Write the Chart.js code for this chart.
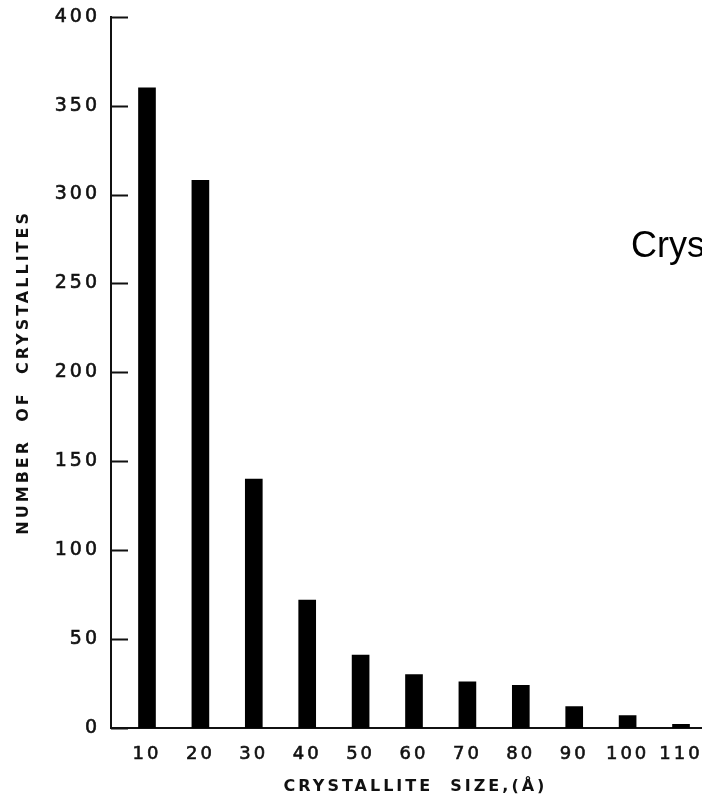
<!DOCTYPE html>
<html>
<head>
<meta charset="utf-8">
<script src="https://cdn.jsdelivr.net/npm/chart.js@4/dist/chart.umd.min.js"></script>
<style>
  html, body { margin: 0; padding: 0; background: #fff; overflow: hidden; }
  #wrap { position: absolute; left: 0; top: 0; width: 720px; height: 796px; }
</style>
</head>
<body>
<div id="wrap"><canvas id="chart" width="720" height="796"></canvas></div>
<script>
// Crystallite size classes (Å) and the number of crystallites counted in each
const sizes = [10, 20, 30, 40, 50, 60, 70, 80, 90, 100, 110];
const counts = [360, 308, 140, 72, 41, 30, 26, 24, 12, 7, 2];
const yTickValues = [0, 50, 100, 150, 200, 250, 300, 350, 400];

const xTitle = 'CRYSTALLITE  SIZE,(Å)';
const yTitle = 'NUMBER  OF  CRYSTALLITES';
const sideText = 'Crystallite size distribution';

const INK = '#111';
const LETTER = 'DejaVu Sans';

// wide, spaced lettering for the hand-drawn axis text, inner tick marks, side caption
const lettering = {
  id: 'lettering',
  beforeDraw(chart) {
    chart.ctx.letterSpacing = '3px';
  },
  afterDraw(chart) {
    const ctx = chart.ctx;
    const y = chart.scales.y;
    const left = chart.chartArea.left;
    ctx.save();
    ctx.strokeStyle = INK;
    ctx.lineWidth = 2;
    ctx.beginPath();
    y.ticks.forEach(t => {
      const py = Math.round(y.getPixelForValue(t.value)) + 0.5;
      ctx.moveTo(left, py);
      ctx.lineTo(left + 17, py);
    });
    ctx.stroke();
    ctx.letterSpacing = '0px';
    ctx.fillStyle = '#000';
    ctx.font = '36px "Liberation Sans", Arial, sans-serif';
    ctx.textAlign = 'left';
    ctx.textBaseline = 'alphabetic';
    ctx.fillText(sideText, 631, 257);
    ctx.restore();
  }
};

new Chart(document.getElementById('chart'), {
  type: 'bar',
  data: {
    datasets: [{
      data: sizes.map((s, i) => ({ x: s, y: counts[i] })),
      backgroundColor: '#000',
      borderWidth: 0,
      barThickness: 17
    }]
  },
  options: {
    responsive: false,
    animation: false,
    events: [],
    layout: { padding: { top: 15, left: 0, right: 0, bottom: 0 } },
    plugins: {
      legend: { display: false },
      tooltip: { enabled: false }
    },
    scales: {
      x: {
        type: 'linear',
        offset: false,
        min: 3.26,
        max: 117.3,
        afterBuildTicks(scale) {
          scale.ticks = sizes.map(v => ({ value: v }));
        },
        afterFit(scale) { scale.height = 68; },
        grid: { display: false, drawTicks: false, offset: false },
        border: { display: true, color: INK, width: 2 },
        ticks: {
          autoSkip: false,
          maxRotation: 0,
          padding: 16,
          color: INK,
          textStrokeColor: INK,
          textStrokeWidth: 0.6,
          font: { family: LETTER, size: 18 },
          callback: v => String(v)
        },
        title: {
          display: true,
          text: xTitle,
          color: INK,
          font: { family: LETTER, size: 16, weight: 'bold' },
          padding: { top: 9, bottom: 0 }
        }
      },
      y: {
        min: 0,
        max: 400,
        afterBuildTicks(scale) {
          scale.ticks = yTickValues.map(v => ({ value: v }));
        },
        afterFit(scale) { scale.width = 111; },
        grid: { display: false, drawTicks: false },
        border: { display: true, color: INK, width: 2 },
        ticks: {
          padding: 11,
          color: INK,
          textStrokeColor: INK,
          textStrokeWidth: 0.6,
          font: { family: LETTER, size: 19, lineHeight: 0.6 },
          callback: v => String(v)
        },
        title: {
          display: true,
          text: yTitle,
          color: INK,
          font: { family: LETTER, size: 16, weight: 'bold' },
          padding: { top: 14, bottom: 0 }
        }
      }
    }
  },
  plugins: [lettering]
});
</script>
</body>
</html>
